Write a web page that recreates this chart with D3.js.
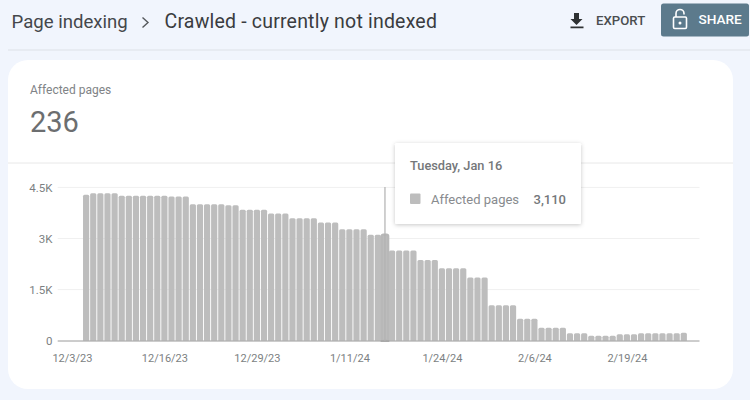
<!DOCTYPE html>
<html><head><meta charset="utf-8">
<script src="https://cdn.jsdelivr.net/npm/d3@7/dist/d3.min.js"></script>
<style>html,body{margin:0;padding:0;background:#f1f5fd}svg{display:block}text{font-family:Roboto,sans-serif}</style>
</head><body><svg id="c" width="750" height="400"></svg>
<script>
const firstBarDate = "2023-12-05";
const values = [4283,4330,4330,4330,4330,4253,4253,4253,4253,4253,4253,4253,4233,4233,4233,
4008,4008,4008,4008,4008,3979,3979,3842,3842,3842,3842,3734,3734,3734,3597,3597,3597,3597,
3470,3470,3470,3273,3273,3273,3273,3110,3110,3110,2646,2646,2646,2646,2372,2372,2372,
2127,2127,2127,2127,1852,1852,1852,1039,1039,1039,1039,647,647,647,382,382,382,382,
216,216,216,147,147,147,147,186,186,186,216,216,216,216,216,216,236];
const yTickValues = [0,1500,3000,4500];
const yTickLabels = ["0","1.5K","3K","4.5K"];
const xTickDates = ["2023-12-03","2023-12-16","2023-12-29","2024-01-11","2024-01-24","2024-02-06","2024-02-19"];
const xTickLabels = ["12/3/23","12/16/23","12/29/23","1/11/24","1/24/24","2/6/24","2/19/24"];
const hoverDate = "2024-01-16";
const hoverLabel = "Tuesday, Jan 16";
const hoverValue = "3,110";
const seriesName = "Affected pages";
const summaryValue = "236";

const day = s => { const [a,b,c] = s.split("-").map(Number); return new Date(Date.UTC(a,b-1,c)); };
const svg = d3.select("#c");
const x = d3.scaleUtc().domain([day("2023-12-03"), day("2024-02-27")]).range([71.9, 683.8]);
const y = d3.scaleLinear().domain([0,4500]).range([340.7,187.4]);
const dates = values.map((_,i)=>d3.utcDay.offset(day(firstBarDate),i));
const bw = 6.2;
const plotL = 57.7, plotR = 699.5;

// page header
svg.append("line").attr("x1",8).attr("x2",750).attr("y1",50).attr("y2",50).attr("stroke","#e3e7ee").attr("stroke-width",1.5);
svg.append("text").attr("x",11.5).attr("y",28).attr("font-size",18.6).attr("fill","#44474b").text("Page indexing");
svg.append("text").attr("x",164.5).attr("y",28).attr("font-size",19.5).attr("fill","#3a3c40").attr("letter-spacing",0.2).text("Crawled - currently not indexed");
svg.append("path").attr("d","M142.5 17.5 L148 22.5 L142.5 27.5").attr("fill","none").attr("stroke","#55585c").attr("stroke-width",1.4);

// export
svg.append("path").attr("d","M574 13 h5 v6 h3.5 l-6 6 l-6 -6 h3.5 z M570.5 26.5 h13 v1.8 h-13 z").attr("fill","#2e3133");
svg.append("text").attr("x",596).attr("y",25).attr("font-size",13.2).attr("font-weight",500).attr("fill","#4a4d50").text("EXPORT");
// share
svg.append("rect").attr("x",661).attr("y",3.5).attr("width",88).attr("height",33).attr("rx",2.5).attr("fill","#5c7a8c");
svg.append("rect").attr("x",673.5).attr("y",17).attr("width",13).attr("height",11.5).attr("rx",1.2).attr("fill","none").attr("stroke","#fff").attr("stroke-width",1.6);
svg.append("path").attr("d","M676 17 v-3.5 a4 4 0 0 1 8 0 v1").attr("fill","none").attr("stroke","#fff").attr("stroke-width",1.6);
svg.append("circle").attr("cx",680).attr("cy",23).attr("r",1.5).attr("fill","#fff");
svg.append("text").attr("x",698.5).attr("y",24).attr("font-size",13.6).attr("font-weight",500).attr("fill","#fff").text("SHARE");

// card
svg.append("rect").attr("x",8).attr("y",60).attr("width",725).attr("height",329).attr("rx",20).attr("fill","#fff");
svg.append("line").attr("x1",8).attr("x2",733).attr("y1",163).attr("y2",163).attr("stroke","#e8e8e8");
svg.append("text").attr("x",30).attr("y",94).attr("font-size",12).attr("fill","#808386").text(seriesName);
svg.append("text").attr("x",30).attr("y",132).attr("font-size",29).attr("fill","#6c6e70").text(summaryValue);

// grid
svg.append("g").selectAll("line").data(yTickValues.slice(1)).join("line")
  .attr("x1",plotL).attr("x2",plotR).attr("y1",d=>y(d)).attr("y2",d=>y(d)).attr("stroke","#f0f0f0");

// bars (rounded top only)
const barPath = (cx,top,base,w,r)=>`M${cx-w/2} ${base} V${top+r} Q${cx-w/2} ${top} ${cx-w/2+r} ${top} H${cx+w/2-r} Q${cx+w/2} ${top} ${cx+w/2} ${top+r} V${base} Z`;
svg.append("g").selectAll("path").data(values).join("path")
  .attr("d",(v,i)=>barPath(x(dates[i]),y(v),y(0),bw,1.5))
  .attr("fill","#bdbdbd")
  .attr("stroke",(v,i)=>+dates[i]===+day(hoverDate)?"#b8b8b8":"none")
  .attr("stroke-width",(v,i)=>+dates[i]===+day(hoverDate)?2.5:0);

// axis baseline
svg.append("line").attr("x1",plotL).attr("x2",plotR).attr("y1",341).attr("y2",341).attr("stroke","#9a9a9a").attr("stroke-width",1);

// axes via d3
const yAxis = d3.axisLeft(y).tickValues(yTickValues).tickFormat((d,i)=>yTickLabels[i]).tickSize(0).tickPadding(0);
const gy = svg.append("g").attr("transform","translate(52.5,0)").call(yAxis);
gy.select(".domain").remove();
gy.selectAll("text").attr("font-size",11.5).attr("fill","#7c7f82").attr("font-family","Roboto,sans-serif");
const xAxis = d3.axisBottom(x).tickValues(xTickDates.map(day)).tickFormat((d,i)=>xTickLabels[i]).tickSize(0).tickPadding(0);
const gx = svg.append("g").attr("transform","translate(0,354)").call(xAxis);
gx.select(".domain").remove();
gx.selectAll("text").attr("font-size",11).attr("fill","#7c7f82").attr("font-family","Roboto,sans-serif");

// hover
const hx = x(day(hoverDate));
svg.append("line").attr("x1",hx).attr("x2",hx).attr("y1",187).attr("y2",341).attr("stroke","#b0b0b0").attr("stroke-width",1.2);

// tooltip
const defs = svg.append("defs");
const f = defs.append("filter").attr("id","sh").attr("x","-10%").attr("y","-10%").attr("width","120%").attr("height","130%");
f.append("feDropShadow").attr("dx",0).attr("dy",1).attr("stdDeviation",2).attr("flood-color","#000").attr("flood-opacity",0.22);
svg.append("rect").attr("x",395).attr("y",143).attr("width",186).attr("height",81).attr("rx",1.5).attr("fill","#fff").attr("filter","url(#sh)");
svg.append("text").attr("x",410).attr("y",170).attr("font-size",12.8).attr("font-weight",500).attr("fill","#74777a").text(hoverLabel);
svg.append("rect").attr("x",410).attr("y",193.5).attr("width",10.5).attr("height",10.5).attr("rx",1).attr("fill","#bdbdbd");
svg.append("text").attr("x",431).attr("y",204).attr("font-size",13).attr("fill","#888b8e").text(seriesName);
svg.append("text").attr("x",566).attr("y",204).attr("text-anchor","end").attr("font-size",13).attr("font-weight",500).attr("fill","#74777a").text(hoverValue);
</script></body></html>
